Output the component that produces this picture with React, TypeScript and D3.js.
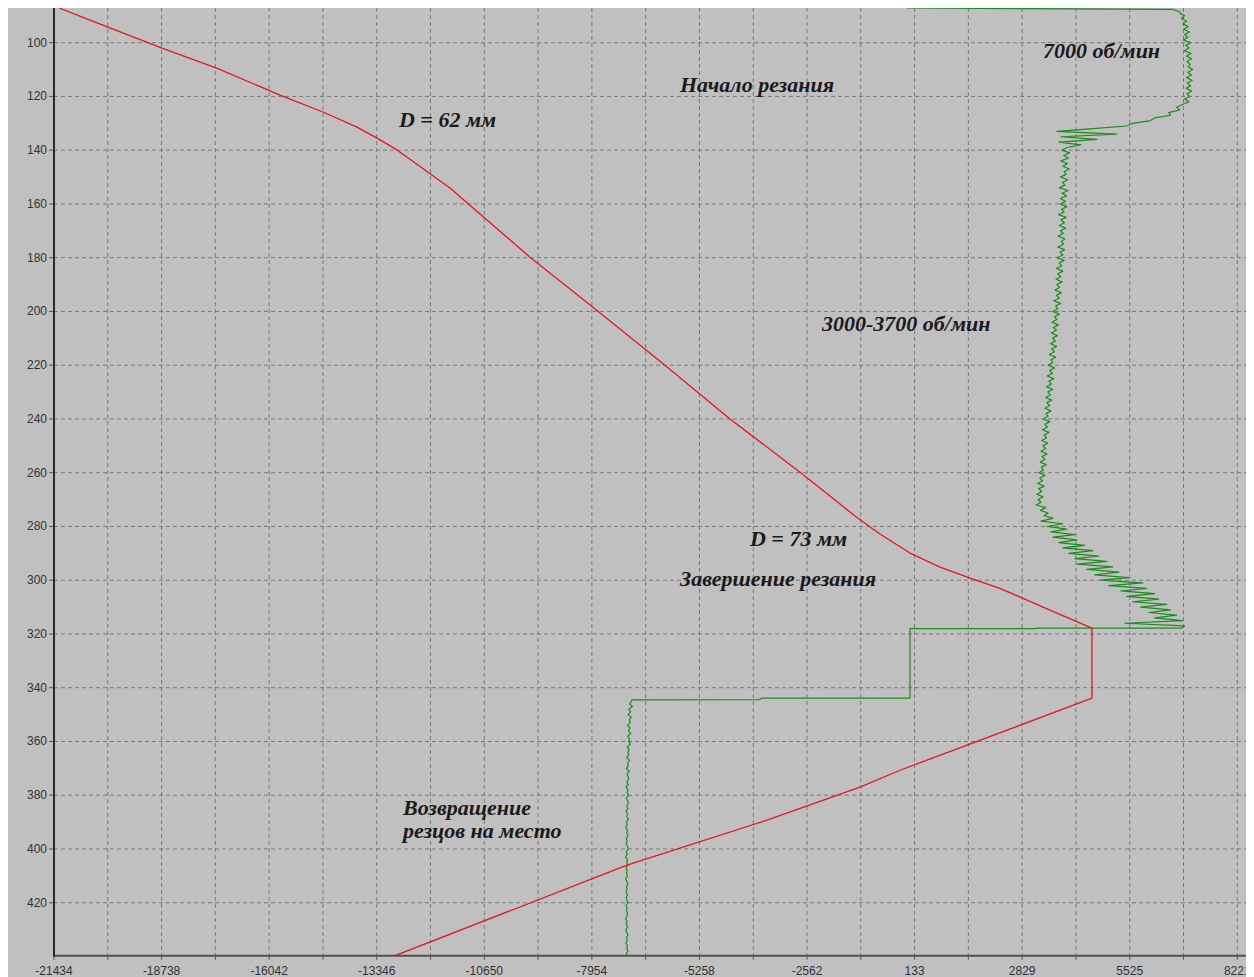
import React from "react";
import * as d3 from "d3";

// Axis tick labels
const xTickLabels = [-21434, -18738, -16042, -13346, -10650, -7954, -5258, -2562, 133, 2829, 5525, 8221];
const yTickLabels = [100, 120, 140, 160, 180, 200, 220, 240, 260, 280, 300, 320, 340, 360, 380, 400, 420];

// Cutter position trace: [x, depth]
const cutterPath: [number, number][] = [
  [-21309, 87.1], [-20081, 94.2], [-18728, 102.0], [-17374, 109.4], [-15770, 119.5],
  [-14693, 125.8], [-13841, 131.4], [-13339, 135.5], [-12838, 139.9], [-11510, 154.1],
  [-9505, 179.8], [-7801, 199.9], [-6122, 220.0], [-4493, 240.0], [-2739, 259.8],
  [-1987, 268.7], [-1360, 276.1], [-734, 282.8], [18, 289.9], [770, 295.1],
  [1522, 299.2], [2273, 303.0], [3351, 310.0], [4578, 317.8], [4578, 343.9],
  [-232, 370.7], [-1236, 377.0], [-3566, 389.3], [-7074, 406.0], [-12888, 439.7],
];

// Spindle speed, head of the record: [rpm, depth]
const spindleLead: [number, number][] = [
  [-58, 87.1], [6600, 87.6], [6780, 88.5],
];

// Spindle speed sampled once per depth unit, starting at depth 89
const spindleStartDepth = 89;
const spindleSamples = [
  // 7000 rpm run-in
  6780, 6900, 6820, 6950, 6860, 6990, 6880, 7020, 6900, 6980,
  6870, 7050, 6930, 7010, 6890, 7060, 6950, 7080, 6960, 7040,
  6990, 7100, 6980, 7070, 6950, 7090, 6970, 7050, 6940, 7080,
  6960, 7030, 6900, 7010, 6850,
  // drop to cutting speed
  6700, 6780, 6500, 6550, 6150, 6050, 5600, 5450, 4600, 3700,
  5200, 3800, 4700, 3750, 4300,
  // 3000-3700 rpm cutting
  3950, 3820, 4020, 3870, 3990, 3800, 3960, 3850, 4010, 3880,
  3930, 3790, 3970, 3840, 3900, 3760, 3980, 3830, 3940, 3790,
  3910, 3780, 3950, 3820, 3880, 3740, 3930, 3800, 3890, 3760,
  3920, 3790, 3860, 3730, 3900, 3810, 3870, 3720, 3890, 3780,
  3850, 3700, 3880, 3760, 3820, 3690, 3850, 3720, 3800, 3680,
  3830, 3700, 3770, 3650, 3810, 3690, 3760, 3620, 3790, 3670,
  3720, 3600, 3760, 3640, 3700, 3580, 3740, 3610, 3690, 3560,
  3710, 3590, 3660, 3540, 3690, 3570, 3640, 3510, 3670, 3550,
  3600, 3480, 3640, 3520, 3590, 3460, 3620, 3500, 3560, 3440,
  3590, 3470, 3540, 3420, 3570, 3450, 3520, 3400, 3550, 3430,
  3480, 3360, 3520, 3400, 3460, 3340, 3500, 3380, 3440, 3320,
  3470, 3350, 3420, 3300, 3450, 3330, 3400, 3280, 3430, 3310,
  3360, 3250, 3400, 3270, 3340, 3220, 3380, 3240, 3320, 3200,
  3350, 3230, 3300, 3180, 3420, 3290, 3480, 3380, 3600,
  // speed rising at the end of the cut
  3300, 3850, 3450, 3950, 3550, 4150, 3600, 4200, 3750, 4400,
  3850, 4600, 4000, 4750, 4150, 4950, 4200, 5100, 4450, 5250,
  4650, 5500, 4800, 5850, 5000, 5950, 5300, 6150, 5450, 6250,
  5600, 6450, 5800, 6550, 6000, 6700, 6150, 6850, 5400, 6900,
];

// Stop and reverse: [rpm, depth]
const spindleStop: [number, number][] = [
  [6830, 317.8], [3200, 317.8], [3150, 318.0], [18, 318.0], [18, 343.9],
  [-3700, 343.9], [-3750, 344.4], [-6950, 344.5],
];

// Reverse rotation while returning the cutters, one sample per depth unit from 345
const reverseStartDepth = 345;
const reverseSamples = [
  -6960, -7010, -6940, -7030, -6980, -7050, -6970, -7020, -6990, -7060,
  -7000, -7040, -6980, -7060, -7010, -7030, -6990, -7070, -7020, -7050,
  -7030, -7080, -7010, -7060, -7040, -7090, -7020, -7070, -7050, -7030,
  -7080, -7040, -7100, -7050, -7070, -7030, -7090, -7060, -7040, -7080,
  -7050, -7100, -7060, -7080, -7040, -7090, -7070, -7110, -7060, -7080,
  -7050, -7090, -7070, -7100, -7060, -7040, -7090, -7070, -7110, -7060,
  -7080, -7050, -7100, -7070, -7090, -7060, -7110, -7080, -7050, -7090,
  -7070, -7100, -7060, -7090, -7080, -7050, -7100, -7070, -7090, -7060,
  -7080, -7110, -7070, -7090, -7060, -7100, -7080, -7050, -7090, -7070,
  -7100, -7060, -7080, -7050, -7090, -7075,
];

// Annotations: [text, x value at left edge, depth at baseline]
const notes: [string, number, number][] = [
  ["7000 об/мин", 3351, 105.7],
  ["Начало резания", -5746, 118.3],
  ["D = 62 мм", -12788, 131.4],
  ["3000-3700 об/мин", -2187, 207.3],
  ["D = 73 мм", -3992, 287.3],
  ["Завершение резания", -5746, 302.2],
  ["Возвращение", -12688, 387.4],
  ["резцов на место", -12688, 396.0],
];

const W = 1246;
const H = 969;
const left = 46;
const bottom = 947.7;

export default function App() {
  const x = d3.scaleLinear().domain([-21434, 8221]).range([left, 1229.3]);
  const y = d3.scaleLinear().domain([87.1, 439.7]).range([0, bottom]);

  const line = d3
    .line<[number, number]>()
    .x((d) => x(d[0]))
    .y((d) => y(d[1]));

  const spindle: [number, number][] = [
    ...spindleLead,
    ...spindleSamples.map((v, i) => [v, spindleStartDepth + i] as [number, number]),
    ...spindleStop,
    ...reverseSamples.map((v, i) => [v, reverseStartDepth + i] as [number, number]),
  ];

  // grid every half label step
  const xGrid: number[] = [];
  xTickLabels.forEach((v, i) => {
    xGrid.push(v);
    if (i < xTickLabels.length - 1) xGrid.push((v + xTickLabels[i + 1]) / 2);
  });

  return (
    <svg width={W} height={H} style={{ display: "block", background: "#c0c0c0" }}>
      <defs>
        <clipPath id="plot">
          <rect x={left} y={0} width={W - left} height={bottom} />
        </clipPath>
      </defs>
      <rect x={0} y={0} width={W} height={H} fill="#c0c0c0" />
      <g stroke="#7a7a7a" strokeWidth={1} strokeDasharray="4,3">
        {xGrid.map((v) => (
          <line key={"gx" + v} x1={x(v)} x2={x(v)} y1={0} y2={bottom} />
        ))}
        {yTickLabels.map((v) => (
          <line key={"gy" + v} x1={left} x2={W} y1={y(v)} y2={y(v)} />
        ))}
      </g>
      <g clipPath="url(#plot)" fill="none">
        <path d={line(spindle) || ""} stroke="#1f8a1f" strokeWidth={1.2} strokeLinejoin="round" />
        <path d={line(cutterPath) || ""} stroke="#e8161c" strokeWidth={1.3} strokeLinejoin="round" />
      </g>
      <g
        fontFamily="'Liberation Serif', 'Times New Roman', serif"
        fontWeight="bold"
        fontStyle="italic"
        fontSize={22}
        fill="#1a1a1a"
      >
        {notes.map(([t, vx, vy]) => (
          <text key={t} x={x(vx)} y={y(vy)}>
            {t}
          </text>
        ))}
      </g>
      <g stroke="#555" strokeWidth={1}>
        {xGrid.map((v) => (
          <line key={"tx" + v} x1={x(v)} x2={x(v)} y1={bottom} y2={bottom + 4} />
        ))}
        {yTickLabels.map((v) => (
          <line key={"ty" + v} x1={left - 5} x2={left} y1={y(v)} y2={y(v)} />
        ))}
      </g>
      <line x1={left} x2={W} y1={bottom} y2={bottom} stroke="#505050" strokeWidth={2} />
      <line x1={left} x2={left} y1={0} y2={bottom + 1} stroke="#2a2a2a" strokeWidth={2} />
      <g fontFamily="'Liberation Sans', Arial, sans-serif" fontSize={12} fill="#333">
        {xTickLabels.map((v) => (
          <text key={"lx" + v} x={x(v)} y={bottom + 19} textAnchor="middle">
            {v}
          </text>
        ))}
        {yTickLabels.map((v) => (
          <text key={"ly" + v} x={left - 7} y={y(v)} textAnchor="end" dominantBaseline="central">
            {v}
          </text>
        ))}
      </g>
    </svg>
  );
}
